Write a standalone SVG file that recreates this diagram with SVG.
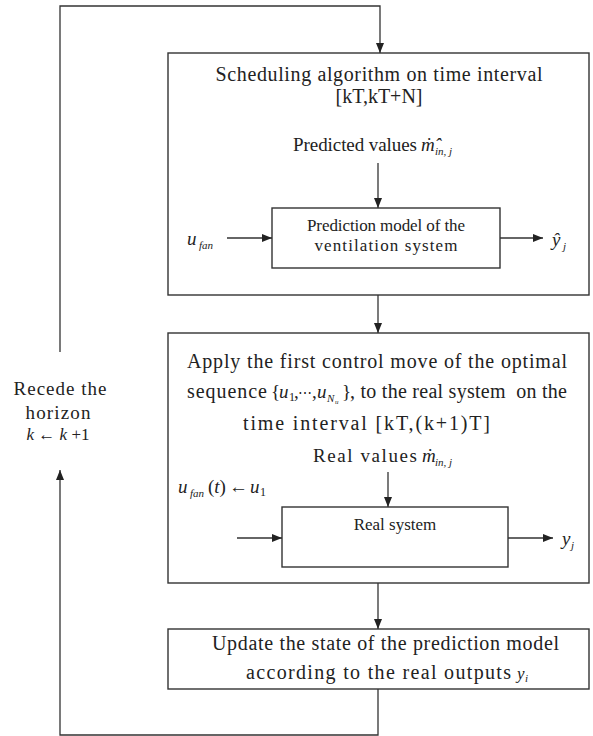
<svg xmlns="http://www.w3.org/2000/svg" width="593" height="736" viewBox="0 0 593 736">
<style>
.box{fill:#fff;stroke:#333;stroke-width:1.4}
.ln{fill:none;stroke:#333;stroke-width:1.3}
text{font-family:"Liberation Serif","DejaVu Serif",serif;fill:#222}
.t20{font-size:20px}
.t19{font-size:19px}
.t17{font-size:17px}
.it{font-style:italic}
.sub{font-size:11px;font-style:italic}
.pre{white-space:pre}
</style>
<defs>
<marker id="ah" viewBox="0 0 10 8" refX="10" refY="4" markerWidth="10" markerHeight="8" markerUnits="userSpaceOnUse" orient="auto">
<path d="M0,0 L10,4 L0,8 Z" fill="#222"/>
</marker>
</defs>
<rect width="593" height="736" fill="#fff"/>

<g id="scheduling">
<rect class="box" x="168" y="53" width="421" height="242"/>
<text class="t20" x="379" y="81" text-anchor="middle" textLength="327" lengthAdjust="spacing">Scheduling algorithm on time interval</text>
<text class="t20" x="379" y="103" text-anchor="middle">[kT,kT+N]</text>
<text class="t19" x="293" y="151" textLength="124" lengthAdjust="spacing">Predicted values</text>
<text class="t19 it" x="421" y="151">ṁ̂</text>
<text class="sub" x="435" y="155">in, j</text>
<text class="t19 it" x="187" y="245">u</text>
<text class="sub" x="199" y="249">fan</text>
<text class="t19 it" x="552" y="246">ŷ</text>
<text class="sub" x="563" y="250">j</text>
</g>

<g id="prediction-model">
<rect class="box" x="272" y="208" width="228" height="60"/>
<text class="t17" x="386" y="231" text-anchor="middle" textLength="158" lengthAdjust="spacing">Prediction model of the</text>
<text class="t17" x="386" y="251" text-anchor="middle" textLength="143" lengthAdjust="spacing">ventilation system</text>
</g>

<g id="apply">
<rect class="box" x="168" y="333" width="421" height="250"/>
<text class="t20" x="187" y="368" textLength="380" lengthAdjust="spacing">Apply the first control move of the optimal</text>
<text class="t20" x="187" y="398" textLength="80" lengthAdjust="spacing">sequence</text>
<text class="t19" y="398"><tspan x="271">{</tspan><tspan x="279" class="it">u</tspan><tspan x="289" y="401" font-size="12">1</tspan><tspan x="294" y="398">,</tspan><tspan x="298" font-size="14">⋯</tspan><tspan x="312">,</tspan><tspan x="317" class="it">u</tspan><tspan x="327" y="402" font-size="11" class="it">N</tspan><tspan x="335" y="404" font-size="7" class="it">u</tspan><tspan x="342" y="398">}</tspan></text>
<text class="t20 pre" x="350" y="398" textLength="217" lengthAdjust="spacing">, to the real system  on the</text>
<text class="t20" x="243" y="430" textLength="247" lengthAdjust="spacing">time interval [kT,(k+1)T]</text>
<text class="t19" x="313" y="462" textLength="104" lengthAdjust="spacing">Real values</text>
<text class="t19 it" x="422" y="462">ṁ</text>
<text class="sub" x="435" y="466">in, j</text>
<text class="t19 it" x="178" y="493">u</text>
<text class="sub" x="190" y="497">fan</text>
<text class="t19" x="208" y="493">(<tspan class="it">t</tspan>)</text>
<text class="t19" x="229" y="493">←</text>
<text class="t19 it" x="250" y="493">u</text>
<text style="font-size:12px" x="260" y="496">1</text>
<text class="t19 it" x="562" y="545">y</text>
<text class="sub" x="571" y="549">j</text>
</g>

<g id="real-system">
<rect class="box" x="282" y="507" width="226" height="60"/>
<text class="t17" x="395" y="530" text-anchor="middle">Real system</text>
</g>

<g id="update">
<rect class="box" x="168" y="629" width="421" height="60"/>
<text class="t20" x="212" y="650" textLength="347" lengthAdjust="spacing">Update the state of the prediction model</text>
<text class="t20" x="246" y="679" textLength="265" lengthAdjust="spacing">according to the real outputs</text>
<text class="t17 it" x="517" y="679">y</text>
<text class="sub" x="525" y="682">i</text>
</g>

<g id="recede">
<text class="t19" x="60" y="395" text-anchor="middle" textLength="93" lengthAdjust="spacing">Recede the</text>
<text class="t19" x="58" y="419" text-anchor="middle" textLength="65" lengthAdjust="spacing">horizon</text>
<text class="t17" x="58" y="440" text-anchor="middle"><tspan class="it">k</tspan> ← <tspan class="it">k</tspan> +1</text>
</g>

<g id="connectors">
<path class="ln" d="M60,352 V6 H380 V53" marker-end="url(#ah)"/>
<path class="ln" d="M378,689 V735 H60 V470" marker-end="url(#ah)"/>
<path class="ln" d="M378,295 V333" marker-end="url(#ah)"/>
<path class="ln" d="M378,583 V629" marker-end="url(#ah)"/>
<path class="ln" d="M378,163 V208" marker-end="url(#ah)"/>
<path class="ln" d="M227,238 H272" marker-end="url(#ah)"/>
<path class="ln" d="M500,238 H543" marker-end="url(#ah)"/>
<path class="ln" d="M388,472 V507" marker-end="url(#ah)"/>
<path class="ln" d="M237,538 H282" marker-end="url(#ah)"/>
<path class="ln" d="M508,538 H553" marker-end="url(#ah)"/>
</g>
</svg>
